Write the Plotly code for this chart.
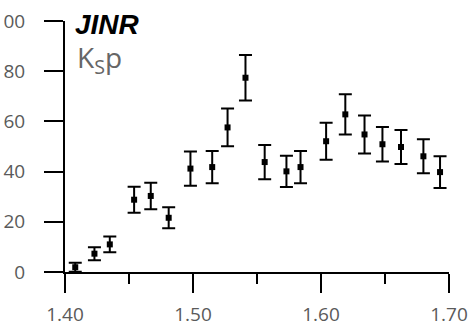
import plotly.graph_objects as go

mass = [1.408, 1.423, 1.435, 1.454, 1.467, 1.481, 1.498, 1.515, 1.527, 1.541,
        1.556, 1.573, 1.584, 1.604, 1.619, 1.634, 1.648, 1.6625, 1.680, 1.693]
counts = [1.9, 7.3, 11.0, 28.8, 30.3, 21.6, 41.2, 41.8, 57.6, 77.4,
          43.8, 40.1, 41.8, 52.1, 62.8, 54.8, 50.9, 49.8, 46.1, 39.8]
errors = [1.8, 2.6, 3.1, 5.2, 5.3, 4.2, 6.8, 6.4, 7.5, 9.1,
          6.8, 6.2, 6.4, 7.4, 8.0, 7.6, 6.9, 6.8, 6.8, 6.3]
x_ticks = [1.40, 1.50, 1.60, 1.70]
x_labels = ["1.40", "1.50", "1.60", "1.70"]
y_ticks = [0, 20, 40, 60, 80, 100]

fig = go.Figure()
fig.add_trace(go.Scatter(
    x=mass, y=counts, mode="markers",
    marker=dict(symbol="square", size=6, color="black"),
    error_y=dict(type="data", array=errors, visible=True, color="black", thickness=2, width=6.5),
    cliponaxis=False, showlegend=False,
))

tickfont = dict(family="Open Sans", size=19, color="#5a5a5a")
fig.update_layout(
    width=470, height=329,
    margin=dict(l=65, r=21, t=21, b=57),
    paper_bgcolor="white", plot_bgcolor="white",
    xaxis=dict(range=[1.40, 1.70], tickvals=x_ticks, ticktext=x_labels, automargin=False,
               showline=True, linecolor="black", linewidth=2, mirror=False,
               ticks="outside", ticklen=19, tickwidth=2, tickcolor="black",
               minor=dict(tickvals=[1.45, 1.55, 1.65], ticks="outside", ticklen=10, tickwidth=2, tickcolor="black"),
               showgrid=False, zeroline=False, tickfont=tickfont, ticklabelstandoff=5),
    yaxis=dict(range=[0, 100], tickvals=y_ticks, automargin=False,
               showline=True, linecolor="black", linewidth=2,
               ticks="outside", ticklen=19, tickwidth=2, tickcolor="black",
               showgrid=False, zeroline=False, tickfont=tickfont, ticklabelstandoff=15),
)
fig.add_annotation(text="<b><i>JINR</i></b>", xref="paper", yref="paper", x=0.02, y=1.055,
                   xanchor="left", yanchor="top", showarrow=False,
                   font=dict(family="Liberation Sans", size=28, color="black"))
fig.add_annotation(text="K<sub>S</sub>p", xref="paper", yref="paper", x=0.025, y=0.94,
                   xanchor="left", yanchor="top", showarrow=False,
                   font=dict(family="Open Sans", size=28, color="#666666"))
fig.write_html("out.html")
